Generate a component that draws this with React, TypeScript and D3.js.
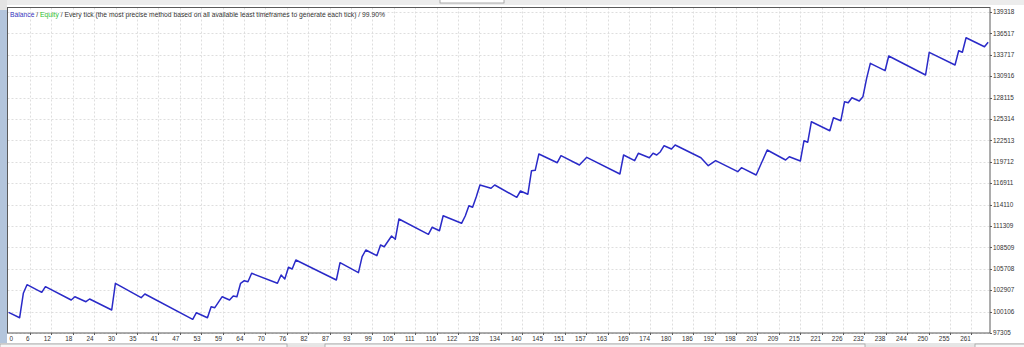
import React from "react";
import * as d3 from "d3";

const tradeIdx = [0,3,4,5,9,10,17,18,21,22,28,29,36,37,50,51,54,55,56,58,60,61,62,63,64,65,66,73,74,75,76,77,78,89,90,95,96,97,100,101,102,104,105,106,114,115,117,118,123,124,125,126,127,128,131,132,138,139,141,142,143,144,149,150,155,157,166,167,170,171,174,175,176,177,178,180,181,188,190,192,198,199,203,206,211,212,215,216,217,218,223,224,226,227,228,229,231,232,233,234,238,239,249,250,257,258,259,260,265,266];

const balance = [100000,99307,102501,103627,102632,103365,101624,102056,101402,101755,100315,103810,101925,102409,99098,99962,99307,100747,100616,102056,101624,102148,102056,103810,104150,104019,105119,103810,104896,104373,105904,105681,106859,104242,106506,105197,107291,108168,107422,108822,108600,110000,109568,112225,110223,111139,110694,112657,111663,112618,113966,113757,115144,116675,116243,116675,115065,115890,115458,118547,118600,120733,119594,120510,119293,120301,118115,120602,119856,120824,120248,120824,120602,121034,121819,121387,121910,120248,119201,119856,118416,118940,117984,121256,119947,120379,119816,122473,122264,124960,123782,125483,125091,127578,127447,128101,127669,128232,130640,132603,131635,133559,131072,134043,132381,134252,134043,135954,134776,135352];

const yTicks = [97305,100106,102907,105708,108509,111309,114110,116911,119712,122513,125314,128115,130916,133717,136517,139318];

const xTickLabels = [0,6,12,18,24,30,35,41,47,53,59,64,70,76,82,87,93,99,105,111,116,122,128,134,140,145,151,157,163,169,174,180,186,192,198,203,209,215,221,226,232,238,244,250,255,261];

const xTickStep = 5.81;
const maxTrade = 266.5;

const W = 1024, H = 347;
const L = 7.5, R = 990, T = 7.5, B = 333;

export default function App() {
  const x = d3.scaleLinear().domain([0, maxTrade]).range([8.6, R]);
  const y = d3.scaleLinear().domain([yTicks[0], yTicks[yTicks.length - 1]]).range([B, 12]);
  const pts: [number, number][] = tradeIdx.map((t, i) => [t, balance[i]]);
  const line = d3.line<[number, number]>().x(d => x(d[0])).y(d => y(d[1]));
  const font = "'Liberation Sans', Arial, sans-serif";

  return (
    <div style={{ position: "absolute", left: 0, top: 0 }}>
      <svg width={W} height={H} style={{ display: "block" }}>
        <rect x={0} y={0} width={W} height={H} fill="#ffffff" />
        {/* top tab strip */}
        <rect x={0} y={0} width={W} height={5} fill="#ececec" />
        <rect x={440} y={-1} width={64} height={4} fill="#ffffff" stroke="#9a9a9a" strokeWidth={0.8} />
        {/* left strip */}
        <rect x={0} y={0} width={7} height={10} fill="#e4e4e4" />
        <rect x={0} y={10} width={7} height={H - 10} fill="#b3c5dc" />
        {/* bottom strip */}
        <rect x={0} y={343} width={W} height={4} fill="#e6e6e6" />
        <rect x={0} y={344} width={287} height={4} fill="#f7f7f7" stroke="#a0a0a0" strokeWidth={0.8} />
        <rect x={325} y={344} width={540} height={4} fill="#f7f7f7" stroke="#a0a0a0" strokeWidth={0.8} />
        <rect x={975} y={344} width={60} height={4} fill="#f7f7f7" stroke="#a0a0a0" strokeWidth={0.8} />

        {/* grid */}
        {yTicks.map((v, i) => (
          <line key={"gy" + i} x1={L} x2={R} y1={Math.round(y(v)) + 0.5} y2={Math.round(y(v)) + 0.5}
            stroke="#dedede" strokeWidth={1} strokeDasharray="2,2" />
        ))}
        {xTickLabels.map((lab, k) => k === 0 ? null : (
          <line key={"gx" + k} x1={Math.round(x(k * xTickStep)) + 0.5} x2={Math.round(x(k * xTickStep)) + 0.5}
            y1={T} y2={B} stroke="#dedede" strokeWidth={1} strokeDasharray="2,2" />
        ))}

        {/* plot border */}
        <rect x={L} y={T} width={R - L} height={B - T} fill="none" stroke="#5a5a5a" strokeWidth={1} />

        {/* y axis labels */}
        {yTicks.map((v, i) => (
          <g key={"yl" + i}>
            <line x1={R} x2={R + 2} y1={Math.round(y(v)) + 0.5} y2={Math.round(y(v)) + 0.5} stroke="#5a5a5a" />
            <text x={993} y={y(v) + 2.2} fontSize={6.4} fontFamily={font} fill="#333">{v}</text>
          </g>
        ))}

        {/* x axis labels */}
        {xTickLabels.map((lab, k) => {
          const px = x(k * xTickStep);
          return (
            <g key={"xl" + k}>
              {k > 0 && <line x1={Math.round(px) + 0.5} x2={Math.round(px) + 0.5} y1={B} y2={B + 2} stroke="#5a5a5a" />}
              <text x={k === 0 ? 9.5 : px - 0.5} y={341} fontSize={6.4} fontFamily={font} fill="#333"
                textAnchor={k === 0 ? "start" : "end"}>{lab}</text>
            </g>
          );
        })}

        {/* balance line */}
        <path d={line(pts) || ""} fill="none" stroke="#2a2ac8" strokeWidth={1.5} strokeLinejoin="round" />

        {/* legend */}
        <text x={10} y={16.5} fontSize={7} fontFamily={font} fill="#333" textLength={375} lengthAdjust="spacingAndGlyphs">
          <tspan fill="#3535c0">Balance</tspan>
          <tspan> / </tspan>
          <tspan fill="#2ec02e">Equity</tspan>
          <tspan> / Every tick (the most precise method based on all available least timeframes to generate each tick) / 99.90%</tspan>
        </text>
      </svg>
    </div>
  );
}
